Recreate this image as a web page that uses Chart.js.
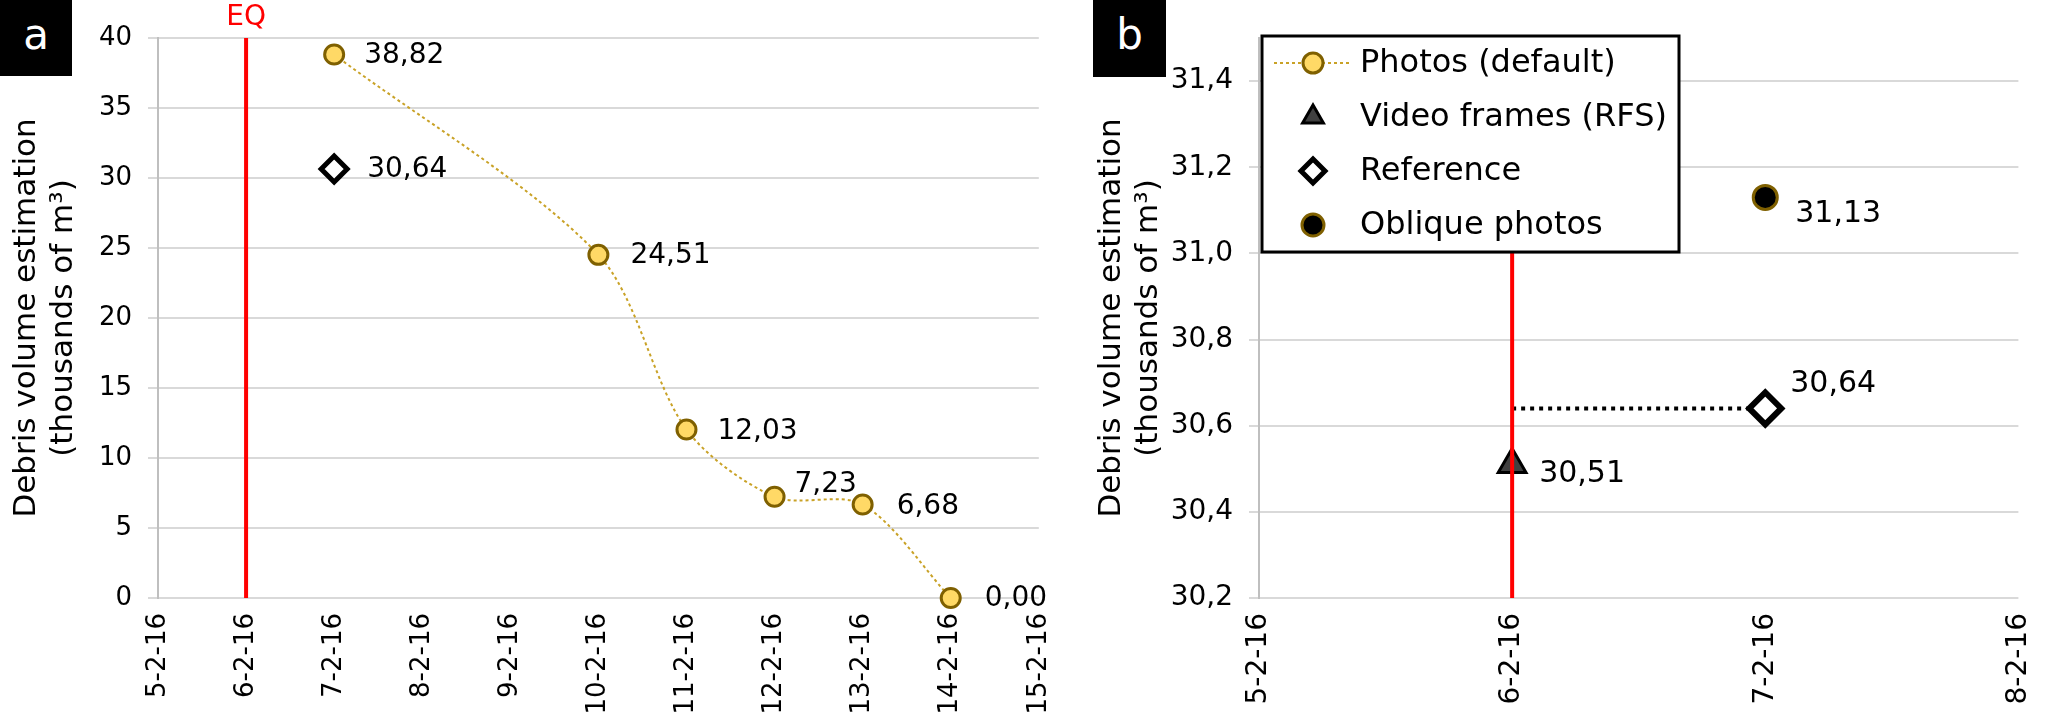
<!DOCTYPE html>
<html>
<head>
<meta charset="utf-8">
<script src="https://cdn.jsdelivr.net/npm/chart.js@4/dist/chart.umd.min.js"></script>
<style>
  html, body { margin: 0; padding: 0; background: #fff; }
  #wrap { position: relative; width: 2067px; height: 715px; background: #fff; overflow: hidden; }
  .pane { position: absolute; top: 0; height: 715px; }
  .tag { position: absolute; top: 0; background: #000; color: #fff; font-family: "DejaVu Sans", sans-serif;
         font-size: 42px; text-align: center; }
</style>
</head>
<body>
<div id="wrap">
  <div class="pane" style="left:0;width:1085px;"><canvas id="chartA"></canvas></div>
  <div class="pane" style="left:1085px;width:982px;"><canvas id="chartB"></canvas></div>
  <div class="tag" style="left:0;width:72px;height:76px;line-height:70px;">a</div>
  <div class="tag" style="left:1093px;width:73px;height:77px;line-height:70px;">b</div>
</div>
<script>
// ---------------- DATA ----------------
const datesA = ['5-2-16','6-2-16','7-2-16','8-2-16','9-2-16','10-2-16','11-2-16','12-2-16','13-2-16','14-2-16','15-2-16'];
const photosA = [null, null, 38.82, null, null, 24.51, 12.03, 7.23, 6.68, 0.00, null];
const referenceA = [null, null, 30.64, null, null, null, null, null, null, null, null];
const eqDate = '6-2-16';
const eqRangeA = [0, 40];

const datesB = ['5-2-16','6-2-16','7-2-16','8-2-16'];
const photosB = [null, null, null, null];
const videoFramesB = [null, 30.51, null, null];
const referenceB = [null, null, 30.64, null];
const obliqueB = [null, null, 31.13, null];
const referenceLinkB = [30.64, 30.64];          // reference level drawn from EQ date to reference date
const referenceLinkDates = ['6-2-16', '7-2-16'];
const eqRangeB = [30.2, 31.5];

const yTitle = ['Debris volume estimation', '(thousands of m³)'];
const FONT = '"DejaVu Sans", sans-serif';

// ---------------- HELPERS ----------------
const fmt = (v, d) => v.toFixed(d).replace('.', ',');

const labelPlugin = {
  id: 'valueLabels',
  afterDatasetsDraw(chart) {
    const ctx = chart.ctx;
    chart.data.datasets.forEach((ds, i) => {
      const meta = chart.getDatasetMeta(i);
      if (ds.eqLabel) {
        const top = meta.data[meta.data.length - 1];
        ctx.save();
        ctx.font = ds.eqLabel.font;
        ctx.fillStyle = ds.borderColor;
        ctx.textAlign = 'center';
        ctx.textBaseline = 'middle';
        ctx.fillText(ds.eqLabel.text, top.x, top.y + ds.eqLabel.dy);
        ctx.restore();
      }
      if (!ds.labelOffsets) return;
      ctx.save();
      ctx.font = ds.labelFont;
      ctx.fillStyle = '#000';
      ctx.textAlign = 'left';
      ctx.textBaseline = 'middle';
      meta.data.forEach((el, j) => {
        const v = ds.data[j];
        if (v === null || v === undefined || typeof v === 'object') return;
        const off = ds.labelOffsets[j] || [31, 0];
        ctx.fillText(fmt(v, 2), el.x + off[0], el.y + off[1]);
      });
      ctx.restore();
    });
  }
};

function drawMarker(ctx, style, r, bw, x, y) {
  if (Chart.helpers && Chart.helpers.drawPoint) {
    Chart.helpers.drawPoint(ctx, {pointStyle: style, radius: r, borderWidth: bw, rotation: 0}, x, y);
    return;
  }
  ctx.beginPath();
  if (style === 'triangle') {
    for (let k = 0; k < 3; k++) {
      const a = k * 2 * Math.PI / 3;
      ctx.lineTo(x + Math.sin(a) * r, y - Math.cos(a) * r);
    }
    ctx.closePath();
  } else if (style === 'rectRot') {
    ctx.moveTo(x, y - r); ctx.lineTo(x + r, y); ctx.lineTo(x, y + r); ctx.lineTo(x - r, y); ctx.closePath();
  } else {
    ctx.arc(x, y, r, 0, Math.PI * 2);
  }
  ctx.fill();
  if (bw > 0) ctx.stroke();
}

const legendPlugin = {
  id: 'boxLegend',
  afterDraw(chart) {
    const o = chart.options.plugins.boxLegend;
    if (!o || !o.display) return;
    const ctx = chart.ctx, a = chart.chartArea;
    const x0 = a.left + o.dx, y0 = o.top;
    ctx.save();
    ctx.fillStyle = '#fff';
    ctx.fillRect(x0, y0, o.width, o.height);
    ctx.lineWidth = 3;
    ctx.strokeStyle = '#000';
    ctx.strokeRect(x0, y0, o.width, o.height);
    let row = 0;
    chart.data.datasets.forEach(ds => {
      if (!ds.legendMarker) return;
      const cy = y0 + o.firstRow + row * o.rowGap;
      if (ds.legendLine) {
        ctx.save();
        ctx.strokeStyle = ds.borderColor;
        ctx.lineWidth = ds.borderWidth;
        ctx.setLineDash(ds.borderDash || []);
        ctx.beginPath();
        ctx.moveTo(x0 + o.lineX0, cy);
        ctx.lineTo(x0 + o.lineX1, cy);
        ctx.stroke();
        ctx.restore();
      }
      ctx.save();
      ctx.fillStyle = ds.pointBackgroundColor;
      ctx.strokeStyle = ds.pointBorderColor;
      ctx.lineWidth = ds.legendMarker.borderWidth;
      ctx.setLineDash([]);
      drawMarker(ctx, ds.pointStyle, ds.legendMarker.radius, ds.legendMarker.borderWidth, x0 + o.markerX, cy);
      ctx.restore();
      ctx.font = o.font;
      ctx.fillStyle = '#000';
      ctx.textAlign = 'left';
      ctx.textBaseline = 'middle';
      ctx.fillText(ds.label, x0 + o.textX, cy + 1);
      row++;
    });
    ctx.restore();
  }
};

function baseOptions(cfg) {
  return {
    responsive: true,
    maintainAspectRatio: false,
    devicePixelRatio: 1,
    animation: false,
    events: [],
    layout: { padding: { top: 38, right: cfg.padRight, bottom: 0, left: 0 } },
    plugins: { legend: { display: false }, tooltip: { enabled: false }, boxLegend: cfg.boxLegend || { display: false } },
    scales: {
      x: {
        type: 'category',
        labels: cfg.labels,
        offset: false,
        grid: { display: false, drawTicks: false, tickLength: 0 },
        border: { display: false },
        ticks: { autoSkip: false, maxRotation: 90, minRotation: 90, padding: 15, color: '#000',
                 font: { family: FONT, size: cfg.tickSize } },
        afterFit(s) { s.height = 117; }
      },
      y: {
        min: cfg.min, max: cfg.max,
        ticks: { stepSize: cfg.step, includeBounds: false, color: '#000', padding: 16,
                 font: { family: FONT, size: cfg.tickSize },
                 callback: v => fmt(v, cfg.dec) },
        grid: { color: '#D9D9D9', lineWidth: 2, tickLength: 10 },
        border: { display: true, color: '#BFBFBF', width: 2 },
        title: { display: true, text: yTitle, color: '#000', font: { family: FONT, size: 31, lineHeight: 1.2 },
                 padding: { top: 8, bottom: 0 } },
        afterFit(s) { s.width = cfg.axisWidth; }
      }
    }
  };
}

// ---------------- CHART A ----------------
new Chart(document.getElementById('chartA'), {
  type: 'line',
  data: {
    labels: datesA,
    datasets: [
      {
        label: 'EQ', data: eqRangeA.map(v => ({ x: eqDate, y: v })),
        borderColor: '#FF0000', borderWidth: 4, pointRadius: 0, order: 0, clip: false,
        eqLabel: { text: 'EQ', font: '28px ' + FONT, dy: -20 }
      },
      {
        label: 'Photos (default)', data: photosA, spanGaps: true, tension: 0.3,
        borderColor: '#C9A227', borderWidth: 2, borderDash: [3, 3],
        pointStyle: 'circle', pointRadius: 9.5, pointBorderWidth: 3,
        pointBackgroundColor: '#FFD966', pointBorderColor: '#7F6000', order: 2, clip: false,
        labelFont: '28px ' + FONT,
        labelOffsets: { 2: [30, 1], 5: [32, 1], 6: [31, 2], 7: [20, -12], 8: [34, 2], 9: [34, 1] }
      },
      {
        label: 'Reference', data: referenceA, showLine: false,
        pointStyle: 'rectRot', pointRadius: 13, pointBorderWidth: 5,
        pointBackgroundColor: '#FFFFFF', pointBorderColor: '#000000', order: 1, clip: false,
        labelFont: '28px ' + FONT,
        labelOffsets: { 2: [33, 1] }
      }
    ]
  },
  options: baseOptions({ labels: datesA, min: 0, max: 40, step: 5, dec: 0, tickSize: 26, axisWidth: 158, padRight: 17 }),
  plugins: [labelPlugin]
});

// ---------------- CHART B ----------------
new Chart(document.getElementById('chartB'), {
  type: 'line',
  data: {
    labels: datesB,
    datasets: [
      {
        label: 'EQ', data: eqRangeB.map(v => ({ x: eqDate, y: v })),
        borderColor: '#FF0000', borderWidth: 4, pointRadius: 0, order: 0, clip: false
      },
      {
        label: 'link', data: referenceLinkB.map((v, i) => ({ x: referenceLinkDates[i], y: v })),
        borderColor: '#000000', borderWidth: 4, borderDash: [4, 5], pointRadius: 0, order: 3, clip: false
      },
      {
        label: 'Photos (default)', data: photosB, spanGaps: true,
        borderColor: '#C9A227', borderWidth: 2, borderDash: [3, 3],
        pointStyle: 'circle', pointRadius: 9.5, pointBorderWidth: 3,
        pointBackgroundColor: '#FFD966', pointBorderColor: '#7F6000', order: 2,
        legendMarker: { radius: 10, borderWidth: 3 }, legendLine: true
      },
      {
        label: 'Video frames (RFS)', data: videoFramesB, showLine: false,
        pointStyle: 'triangle', pointRadius: 16, pointBorderWidth: 3,
        pointBackgroundColor: '#404040', pointBorderColor: '#000000', order: 2, clip: false,
        labelFont: '30px ' + FONT, labelOffsets: { 1: [27, 10] },
        legendMarker: { radius: 12, borderWidth: 3 }
      },
      {
        label: 'Reference', data: referenceB, showLine: false,
        pointStyle: 'rectRot', pointRadius: 16, pointBorderWidth: 6,
        pointBackgroundColor: '#FFFFFF', pointBorderColor: '#000000', order: 1, clip: false,
        labelFont: '30px ' + FONT, labelOffsets: { 2: [25, -24] },
        legendMarker: { radius: 12, borderWidth: 5 }
      },
      {
        label: 'Oblique photos', data: obliqueB, showLine: false,
        pointStyle: 'circle', pointRadius: 12, pointBorderWidth: 3,
        pointBackgroundColor: '#000000', pointBorderColor: '#7F6000', order: 1, clip: false,
        labelFont: '30px ' + FONT, labelOffsets: { 2: [30, 17] },
        legendMarker: { radius: 11, borderWidth: 3 }
      }
    ]
  },
  options: baseOptions({
    labels: datesB, min: 30.2, max: 31.5, step: 0.2, dec: 1, tickSize: 28, axisWidth: 174, padRight: 19,
    boxLegend: { display: true, dx: 3, top: 36, width: 417, height: 216, firstRow: 27, rowGap: 54,
                 markerX: 51, lineX0: 12, lineX1: 90, textX: 98, font: '32px ' + FONT }
  }),
  plugins: [labelPlugin, legendPlugin]
});
</script>
</body>
</html>
